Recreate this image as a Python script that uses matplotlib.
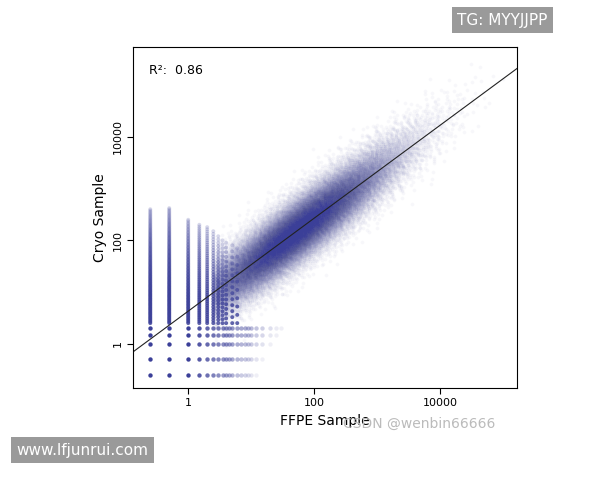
import numpy as np
import matplotlib
matplotlib.use("Agg")
import matplotlib.pyplot as plt

# ---- values ----
fit_slope = 0.90          # slope of the drawn line in log-log space
fit_intercept = 0.63      # log10(y) at x = 1
r2_text = "R²:  0.86"

# discrete low-count columns (FFPE value) and their top (Cryo) extent
col_x = [0.25, 0.5, 1, 1.5, 2, 2.5, 3, 3.5, 4, 5, 6]
col_top = [400, 420, 250, 200, 180, 150, 120, 100, 90, 80, 70]
col_weight = [90, 90, 70, 55, 45, 35, 28, 22, 18, 14, 10]
# discrete low Cryo levels
row_y = [0.25, 0.5, 1, 1.5, 2]
row_xmax = [12, 15, 20, 25, 30]

# cloud description
cloud_n = 30000
cloud_center_logx = 1.7
cloud_sd_logx = 0.85
cloud_sd_logy = 0.33

color = "#3b3f98"


def halton(n, base):
    out = np.zeros(n)
    for i in range(n):
        f, r, k = 1.0, 0.0, i + 1
        while k > 0:
            f /= base
            r += f * (k % base)
            k //= base
        out[i] = r
    return out


# low-discrepancy normal pairs (Box-Muller on Halton points)
u1 = halton(cloud_n, 2) * 0.9998 + 0.0001
u2 = halton(cloud_n, 3)
z1 = np.sqrt(-2 * np.log(u1)) * np.cos(2 * np.pi * u2)
z2 = np.sqrt(-2 * np.log(u1)) * np.sin(2 * np.pi * u2)
lx = cloud_center_logx + cloud_sd_logx * z1
keep = lx > 0.4
lx = lx[keep]
ly = fit_intercept + fit_slope * lx + cloud_sd_logy * z2[keep]
cx, cy = 10 ** lx, 10 ** ly

fig = plt.figure(figsize=(6, 4.8), dpi=100)
ax = fig.add_axes([0.222, 0.192, 0.64, 0.71])

ax.scatter(cx, cy, s=7, color=color, alpha=0.04, linewidths=0)

# columns
for x, top, w in zip(col_x, col_top, col_weight):
    ys = np.logspace(np.log10(2.5), np.log10(top), w)
    al = np.clip(1.0 - 0.8 * np.log10(ys / 2.5) / np.log10(top / 2.5), 0.15, 0.8)
    ax.scatter(np.full(len(ys), x), ys, s=8, color=color, alpha=al, linewidths=0)
# rows
for y, xmax in zip(row_y, row_xmax):
    xs = np.array([0.25, 0.5, 1, 1.5, 2, 2.5, 3, 3.5, 4, 4.5, 5, 6, 7, 8, 9, 10, 12, 15, 20, 25, 30])
    xs = xs[xs <= xmax]
    al = np.clip(1.0 - np.log10(xs) / np.log10(xmax * 1.2), 0.08, 1.0)
    for xv, a in zip(xs, al):
        ax.scatter([xv], [y], s=10, color=color, alpha=a, linewidths=0)

xl = np.array([0.134, 170000])
ax.plot(xl, 10 ** (fit_intercept + fit_slope * np.log10(xl)), color="#222222", lw=0.8)

ax.set_xscale("log")
ax.set_yscale("log")
ax.set_xlim(0.134, 166000)
ax.set_ylim(0.14, 550000)
ax.set_xticks([1, 100, 10000])
ax.set_xticklabels(["1", "100", "10000"])
ax.set_yticks([1, 100, 10000])
ax.set_yticklabels(["1", "100", "10000"], rotation=90, va="center")
ax.minorticks_off()
ax.tick_params(labelsize=8, length=4)
ax.set_xlabel("FFPE Sample", fontsize=10)
ax.set_ylabel("Cryo Sample", fontsize=10)
ax.text(0.04, 0.95, r2_text, transform=ax.transAxes, fontsize=9, va="top")

# watermarks
fig.text(0.762, 0.948, "TG: MYYJJPP", fontsize=11, color="white",
         bbox=dict(facecolor="#9a9a9a", edgecolor="none", pad=4))
fig.text(0.027, 0.053, "www.lfjunrui.com", fontsize=11, color="white",
         bbox=dict(facecolor="#9a9a9a", edgecolor="none", pad=4))
fig.text(0.572, 0.108, "CSDN @wenbin66666", fontsize=10, color="#bbbbbb")

fig.savefig("out.png", dpi=100)
